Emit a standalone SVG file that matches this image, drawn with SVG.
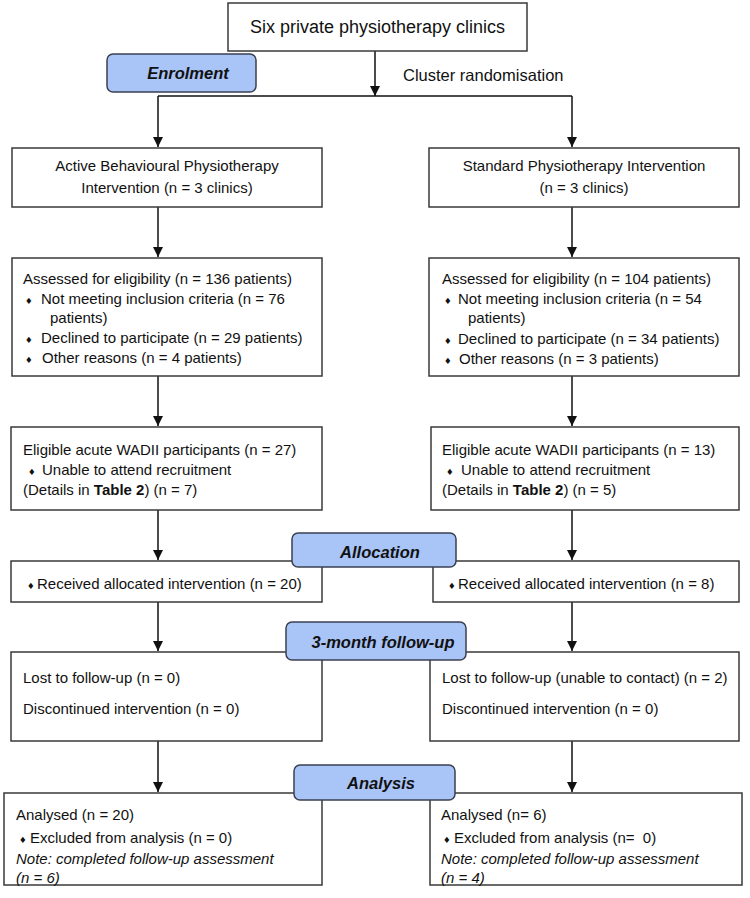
<svg xmlns="http://www.w3.org/2000/svg" width="750" height="898" viewBox="0 0 750 898">
<defs>
<marker id="ah" markerWidth="10" markerHeight="12" refX="10" refY="5" orient="auto" markerUnits="userSpaceOnUse">
<path d="M0,0 L10,5 L0,10 Z" fill="#111"/>
</marker>
<style>
.box{fill:#fff;stroke:#3a3a3a;stroke-width:1.5}
.lab{fill:#a9c4f6;stroke:#3a4050;stroke-width:1.5}
.t{font-family:"Liberation Sans",Arial,sans-serif;font-size:15px;fill:#111}
.c{text-anchor:middle}
.big{font-size:18px}
.mid{font-size:16.5px}
.lt{font-family:"Liberation Sans",Arial,sans-serif;font-size:16.5px;font-weight:bold;font-style:italic;fill:#111;text-anchor:middle}
.b{font-family:"DejaVu Sans",sans-serif;font-size:8.5px}
.i{font-style:italic}
.conn{stroke:#111;stroke-width:1.5;fill:none}
.arr{stroke:#111;stroke-width:1.5;fill:none;marker-end:url(#ah)}
</style>
</defs>
<rect width="750" height="898" fill="#fff"/>
<g id="connectors">
<line class="arr" x1="375" y1="51" x2="375" y2="96"/>
<line class="conn" x1="158" y1="96" x2="572" y2="96"/>
<line class="arr" x1="158" y1="96" x2="158" y2="147"/>
<line class="arr" x1="572" y1="96" x2="572" y2="147"/>
<line class="arr" x1="158" y1="207" x2="158" y2="257"/>
<line class="arr" x1="572" y1="207" x2="572" y2="257"/>
<line class="arr" x1="158" y1="376" x2="158" y2="426"/>
<line class="arr" x1="572" y1="376" x2="572" y2="426"/>
<line class="arr" x1="158" y1="510" x2="158" y2="560"/>
<line class="arr" x1="572" y1="510" x2="572" y2="560"/>
<line class="arr" x1="158" y1="602" x2="158" y2="651"/>
<line class="arr" x1="572" y1="602" x2="572" y2="651"/>
<line class="arr" x1="158" y1="741" x2="158" y2="792"/>
<line class="arr" x1="572" y1="741" x2="572" y2="792"/>
<text class="t mid" x="403" y="81">Cluster randomisation</text>
</g>
<g id="clinics">
<rect class="box" x="228" y="3" width="299" height="48"/>
<text class="t c big" x="377.5" y="33">Six private physiotherapy clinics</text>
</g>
<g id="abp">
<rect class="box" x="12" y="148" width="310" height="59"/>
<text class="t c" x="167" y="171">Active Behavioural Physiotherapy</text>
<text class="t c" x="167" y="193">Intervention (n = 3 clinics)</text>
</g>
<g id="spi">
<rect class="box" x="429" y="148" width="310" height="59"/>
<text class="t c" x="584" y="171">Standard Physiotherapy Intervention</text>
<text class="t c" x="584" y="193">(n = 3 clinics)</text>
</g>
<g id="assess-left">
<rect class="box" x="12" y="258" width="310" height="118"/>
<text class="t" x="23" y="284">Assessed for eligibility (n = 136 patients)</text>
<text class="t" x="25" y="304"><tspan class="b">♦</tspan><tspan x="41">Not meeting inclusion criteria (n = 76</tspan></text>
<text class="t" x="50" y="323">patients)</text>
<text class="t" x="25" y="343"><tspan class="b">♦</tspan><tspan x="41">Declined to participate (n = 29 patients)</tspan></text>
<text class="t" x="25" y="363"><tspan class="b">♦</tspan><tspan x="42">Other reasons (n = 4 patients)</tspan></text>
</g>
<g id="assess-right">
<rect class="box" x="429" y="258" width="310" height="118"/>
<text class="t" x="442" y="284">Assessed for eligibility (n = 104 patients)</text>
<text class="t" x="444" y="304"><tspan class="b">♦</tspan><tspan x="458">Not meeting inclusion criteria (n = 54</tspan></text>
<text class="t" x="468" y="323">patients)</text>
<text class="t" x="444" y="344"><tspan class="b">♦</tspan><tspan x="458">Declined to participate (n = 34 patients)</tspan></text>
<text class="t" x="444" y="364"><tspan class="b">♦</tspan><tspan x="459">Other reasons (n = 3 patients)</tspan></text>
</g>
<g id="eligible-left">
<rect class="box" x="11" y="427" width="311" height="83"/>
<text class="t" x="23" y="455">Eligible acute WADII participants (n = 27)</text>
<text class="t" x="28" y="475"><tspan class="b">♦</tspan><tspan x="42">Unable to attend recruitment</tspan></text>
<text class="t" x="23" y="495">(Details in <tspan font-weight="bold">Table 2</tspan>) (n = 7)</text>
</g>
<g id="eligible-right">
<rect class="box" x="431" y="427" width="308" height="83"/>
<text class="t" x="442" y="455">Eligible acute WADII participants (n = 13)</text>
<text class="t" x="446" y="475"><tspan class="b">♦</tspan><tspan x="461">Unable to attend recruitment</tspan></text>
<text class="t" x="442" y="495">(Details in <tspan font-weight="bold">Table 2</tspan>) (n = 5)</text>
</g>
<g id="received-left">
<rect class="box" x="11" y="561" width="311" height="41"/>
<text class="t" x="27" y="589"><tspan class="b">♦</tspan><tspan x="37">Received allocated intervention (n = 20)</tspan></text>
</g>
<g id="received-right">
<rect class="box" x="433" y="561" width="306" height="41"/>
<text class="t" x="448" y="589"><tspan class="b">♦</tspan><tspan x="458">Received allocated intervention (n = 8)</tspan></text>
</g>
<g id="followup-left">
<rect class="box" x="11" y="652" width="311" height="89"/>
<text class="t" x="23" y="683">Lost to follow-up (n = 0)</text>
<text class="t" x="23" y="714">Discontinued intervention (n = 0)</text>
</g>
<g id="followup-right">
<rect class="box" x="430" y="652" width="309" height="89"/>
<text class="t" x="442" y="683">Lost to follow-up (unable to contact) (n = 2)</text>
<text class="t" x="442" y="714">Discontinued intervention (n = 0)</text>
</g>
<g id="analysis-left">
<rect class="box" x="4" y="793" width="318" height="92"/>
<text class="t" x="16" y="820">Analysed (n = 20)</text>
<text class="t" x="19" y="843"><tspan class="b">♦</tspan><tspan x="30">Excluded from analysis (n = 0)</tspan></text>
<text class="t i" x="16" y="864">Note: completed follow-up assessment</text>
<text class="t i" x="16" y="883">(n = 6)</text>
</g>
<g id="analysis-right">
<rect class="box" x="430" y="793" width="312" height="92"/>
<text class="t" x="441" y="820">Analysed (n= 6)</text>
<text class="t" x="443" y="843"><tspan class="b">♦</tspan><tspan x="454">Excluded from analysis (n=&#160; 0)</tspan></text>
<text class="t i" x="441" y="864">Note: completed follow-up assessment</text>
<text class="t i" x="441" y="883">(n = 4)</text>
</g>
<g id="label-enrolment">
<rect class="lab" x="107" y="54" width="149" height="38" rx="6"/>
<text class="lt" x="188" y="79">Enrolment</text>
</g>
<g id="label-allocation">
<rect class="lab" x="292" y="533" width="164" height="34" rx="6"/>
<text class="lt" x="380" y="558">Allocation</text>
</g>
<g id="label-followup">
<rect class="lab" x="286" y="622" width="180" height="38" rx="6"/>
<text class="lt" x="383" y="648">3-month follow-up</text>
</g>
<g id="label-analysis">
<rect class="lab" x="294" y="765" width="161" height="35" rx="6"/>
<text class="lt" x="381" y="789">Analysis</text>
</g>
</svg>
